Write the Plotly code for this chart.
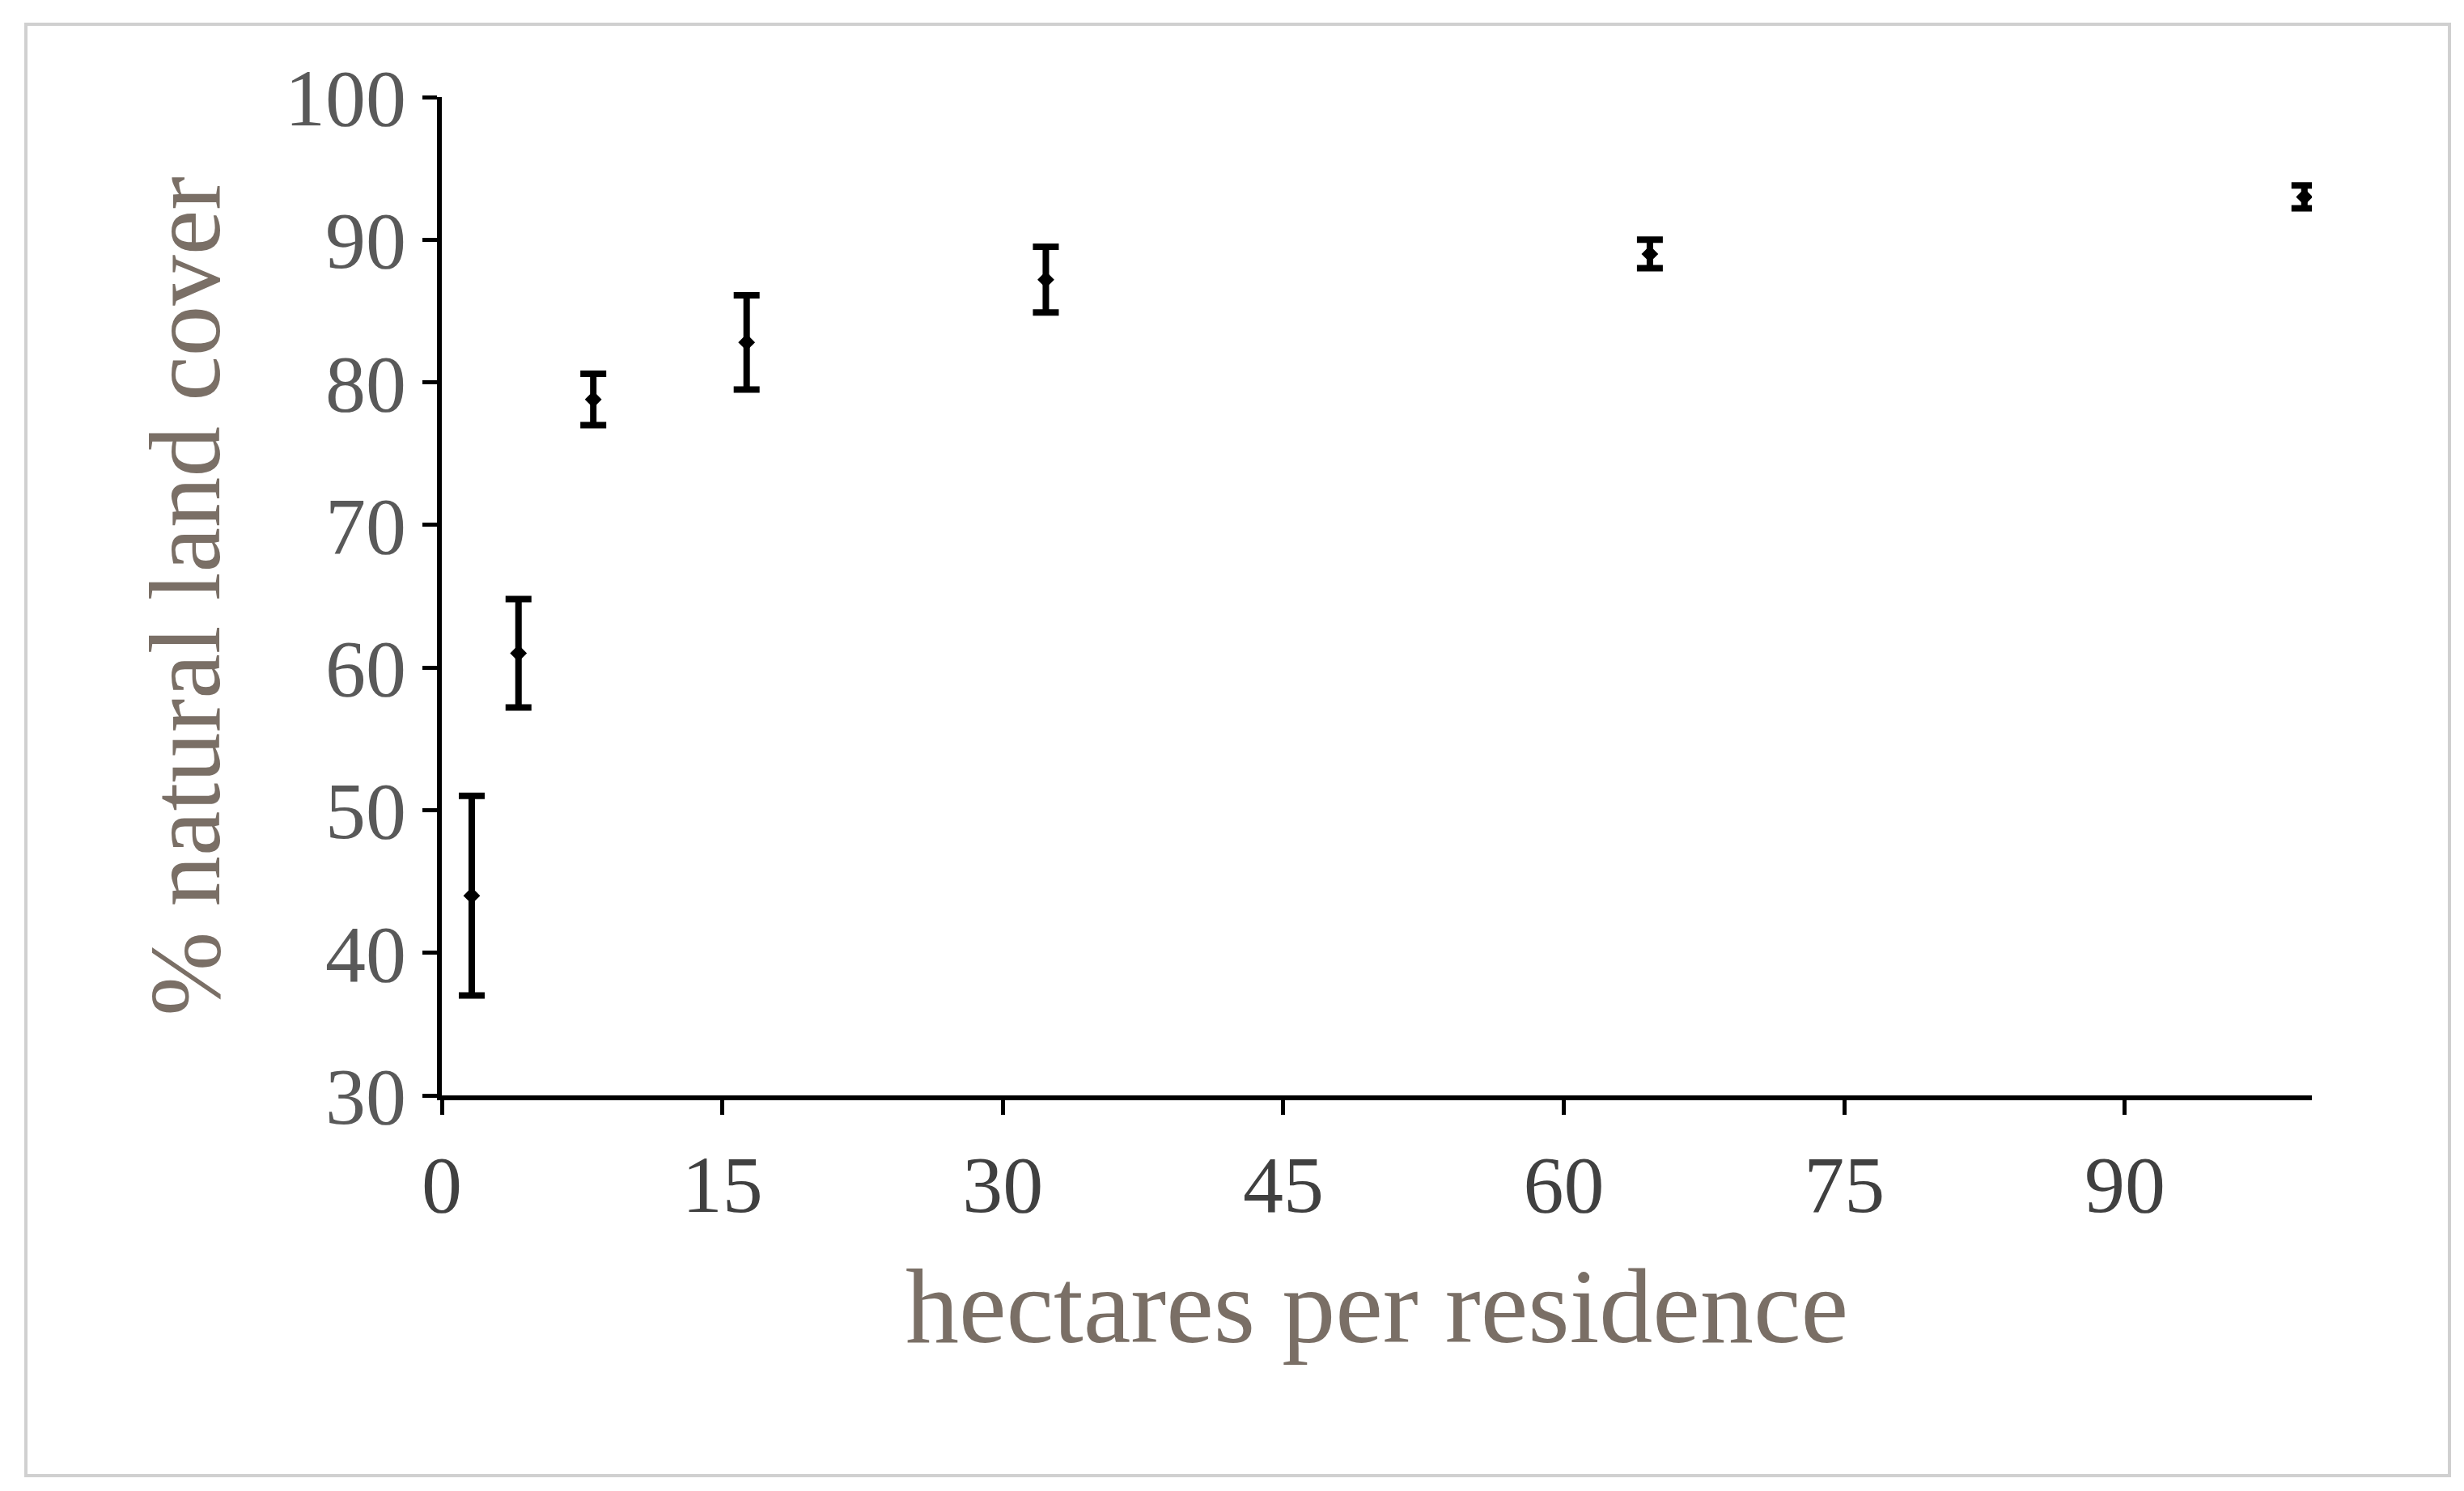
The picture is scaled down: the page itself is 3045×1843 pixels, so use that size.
import plotly.graph_objects as go

hectares = [1.6, 4.1, 8.1, 16.3, 32.3, 64.6, 99.6]
natural_cover = [44.0, 61.0, 78.8, 82.8, 87.2, 89.0, 93.0]
err_plus = [7.0, 3.8, 1.8, 3.3, 2.3, 1.0, 0.8]
err_minus = [7.0, 3.8, 1.8, 3.3, 2.3, 1.0, 0.8]
x_ticks = [0, 15, 30, 45, 60, 75, 90]
y_ticks = [30, 40, 50, 60, 70, 80, 90, 100]

fig = go.Figure(go.Scatter(
    x=hectares, y=natural_cover, mode="markers",
    marker=dict(symbol="diamond", size=16, color="black"),
    error_y=dict(type="data", array=err_plus, arrayminus=err_minus,
                 color="black", thickness=8, width=16),
))
font = "Liberation Serif"
fig.update_layout(
    width=3045, height=1843, paper_bgcolor="white", plot_bgcolor="white",
    margin=dict(l=538, r=196, t=112, b=497),
    showlegend=False,
    font=dict(family=font, color="#595959"),
    shapes=[dict(type="rect", xref="paper", yref="paper",
                 x0=-514/2311, x1=1+170/2311, y0=-470/1234, y1=1+90/1234,
                 line=dict(color="#d0d0d0", width=4))],
)
fig.update_xaxes(range=[0, 100], tickvals=x_ticks, showgrid=False, zeroline=False,
                 showline=True, linecolor="black", linewidth=6, ticks="outside",
                 ticklen=18, tickwidth=5, tickcolor="black",
                 tickfont=dict(size=100, family=font, color="#404040"),
                 title=dict(text="hectares per residence", standoff=50,
                            font=dict(size=132, family=font, color="#7a6f66")))
fig.update_yaxes(range=[30, 100], tickvals=y_ticks, showgrid=False, zeroline=False,
                 showline=True, linecolor="black", linewidth=6, ticks="outside",
                 ticklen=18, tickwidth=5, tickcolor="black",
                 tickfont=dict(size=100, family=font, color="#595959"),
                 title=dict(text="% natural land cover", standoff=40,
                            font=dict(size=125, family=font, color="#7a6f66")))
fig.write_html("out.html")
